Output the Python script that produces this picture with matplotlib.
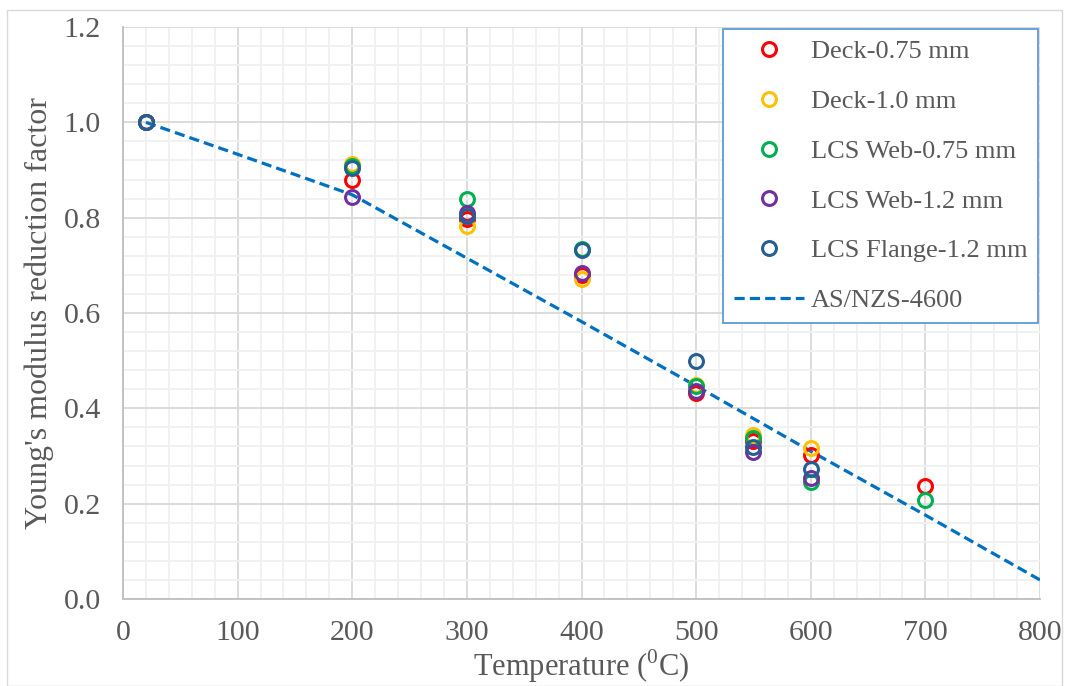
import matplotlib
matplotlib.use("Agg")
import matplotlib.pyplot as plt
from matplotlib.patches import Rectangle
from matplotlib.ticker import MultipleLocator, FormatStrFormatter

plt.rcParams['font.family'] = ['Liberation Serif', 'DejaVu Serif']
plt.rcParams['mathtext.fontset'] = 'custom'
plt.rcParams['mathtext.rm'] = 'Liberation Serif'

# Test temperatures (deg C)
temps = [20, 200, 300, 400, 500, 550, 600]
temps_700 = [20, 200, 300, 400, 500, 550, 600, 700]

# Measured Young's modulus reduction factors
deck_075 = [1.0, 0.880, 0.797, 0.680, 0.432, 0.332, 0.302, 0.238]
deck_10 = [1.0, 0.912, 0.782, 0.671, 0.450, 0.344, 0.317]
web_075 = [1.0, 0.908, 0.839, 0.735, 0.446, 0.338, 0.246, 0.208]
web_12 = [1.0, 0.843, 0.810, 0.683, 0.437, 0.309, 0.253]
flange_12 = [1.0, 0.904, 0.803, 0.732, 0.500, 0.318, 0.272]

# Design curve
code_T = [20, 100, 200, 300, 400, 500, 600, 700, 800]
code_E = [1.0, 0.933, 0.848, 0.715, 0.582, 0.447, 0.310, 0.176, 0.040]

series = [
    ("Deck-0.75 mm", temps_700, deck_075, "#FF0000"),
    ("Deck-1.0 mm", temps, deck_10, "#FFC000"),
    ("LCS Web-0.75 mm", temps_700, web_075, "#00B050"),
    ("LCS Web-1.2 mm", temps, web_12, "#7030A0"),
    ("LCS Flange-1.2 mm", temps, flange_12, "#255E91"),
]

W, H = 1068, 686
fig = plt.figure(figsize=(W / 100, H / 100), dpi=100)
fig.patches.append(Rectangle((7 / W, 0), (1062 - 7) / W, 1 - 10 / H,
                             transform=fig.transFigure, fill=False,
                             edgecolor="#D9D9D9", linewidth=1.0))

ax = fig.add_axes([123 / W, 1 - 599 / H, (1040 - 123) / W, (599 - 27) / H])

text_col = "#595959"
for label, x, y, c in series:
    ax.plot(x, y, linestyle="none", marker="o", markersize=10,
            markerfacecolor="none", markeredgecolor=c, markeredgewidth=2.2,
            label=label, zorder=4)
ax.plot(code_T, code_E, color="#0070C0", linewidth=2.3, linestyle=(0, (3.2, 1.6)),
        label="AS/NZS-4600", zorder=3)

ax.set_xlim(0, 800)
ax.set_ylim(0, 1.2)
ax.xaxis.set_major_locator(MultipleLocator(100))
ax.xaxis.set_minor_locator(MultipleLocator(20))
ax.yaxis.set_major_locator(MultipleLocator(0.2))
ax.yaxis.set_minor_locator(MultipleLocator(0.04))
ax.yaxis.set_major_formatter(FormatStrFormatter("%.1f"))
ax.grid(which="major", color="#D9D9D9", linewidth=1.3, zorder=1)
ax.grid(which="minor", color="#F0F0F0", linewidth=1.3, zorder=0)
ax.set_axisbelow(True)
ax.tick_params(which="both", length=0, labelsize=21.5, colors=text_col)
ax.tick_params(axis="y", pad=16)
ax.tick_params(axis="x", pad=15)
for s in ("top", "right"):
    ax.spines[s].set_visible(False)
for s in ("left", "bottom"):
    ax.spines[s].set_color("#BFBFBF")
    ax.spines[s].set_linewidth(1.3)

ax.set_xlabel(r"Temperature ($^{0}$C)", fontsize=22, color=text_col, labelpad=1)
ax.set_ylabel("Young's modulus reduction factor", fontsize=23, color=text_col, labelpad=7)

leg = ax.legend(loc="upper right", bbox_to_anchor=(0.9978, 0.9965), borderaxespad=0,
                fontsize=19, frameon=True, fancybox=False, handlelength=2.65,
                handletextpad=0.27, borderpad=0.4, labelspacing=1.0,
                labelcolor=text_col)
leg.get_frame().set_edgecolor("#5B9BD5")
leg.get_frame().set_linewidth(1.3)
leg.get_frame().set_alpha(1)

fig.savefig("out.png", dpi=100)
